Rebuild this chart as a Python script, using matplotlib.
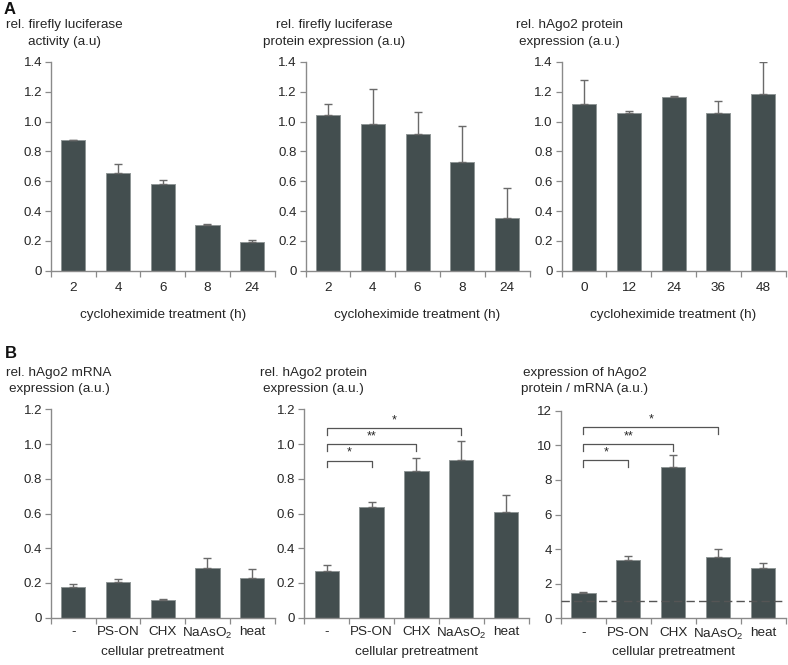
import matplotlib
matplotlib.use("Agg")
import matplotlib.pyplot as plt
import numpy as np

plt.rcParams['font.family'] = ['Liberation Sans', 'DejaVu Sans']
plt.rcParams['mathtext.fontset'] = 'custom'
plt.rcParams['mathtext.rm'] = 'Liberation Sans'
plt.rcParams['mathtext.it'] = 'Liberation Sans:italic'
plt.rcParams['mathtext.default'] = 'regular'

# ---------------- data ----------------
time_labels_a = ["2", "4", "6", "8", "24"]
time_labels_c = ["0", "12", "24", "36", "48"]
treat_labels = ["-", "PS-ON", "CHX", "NaAsO$_2$", "heat"]

luc_activity = [0.88, 0.655, 0.58, 0.305, 0.19]
luc_activity_err = [0.0, 0.063, 0.027, 0.006, 0.018]

luc_protein = [1.045, 0.982, 0.919, 0.726, 0.355]
luc_protein_err = [0.076, 0.234, 0.144, 0.245, 0.20]

ago2_protein_chx = [1.115, 1.056, 1.162, 1.056, 1.187]
ago2_protein_chx_err = [0.166, 0.014, 0.013, 0.081, 0.213]

ago2_mrna = [0.177, 0.207, 0.102, 0.286, 0.227]
ago2_mrna_err = [0.015, 0.018, 0.004, 0.056, 0.051]

ago2_protein = [0.271, 0.637, 0.843, 0.910, 0.609]
ago2_protein_err = [0.034, 0.027, 0.075, 0.106, 0.100]

ago2_ratio = [1.445, 3.35, 8.75, 3.53, 2.93]
ago2_ratio_err = [0.095, 0.27, 0.67, 0.46, 0.29]

# significance brackets: (i, j, level, label)
sig_protein = [(0, 1, 0.904, "*"), (0, 2, 0.998, "**"), (0, 3, 1.092, "*")]
sig_ratio = [(0, 1, 9.13, "*"), (0, 2, 10.06, "**"), (0, 3, 11.04, "*")]
ratio_baseline = 1.0

# ---------------- style ----------------
W, H = 788, 665
fig = plt.figure(figsize=(W / 100, H / 100), dpi=100)
BAR = '#434e4f'
EDGE = '#8f9696'
AX = '#8a8a8a'
TXT = '#262626'
FS = 9.7
TFS = 9.5


def px(x, y):
    return x / W, 1 - y / H


def make_ax(left_px, top_px, bottom_px, right_px):
    l, t = px(left_px, top_px)
    _, b = px(0, bottom_px)
    r = right_px / W
    return fig.add_axes([l, b, r - l, t - b])


def draw_panel(ax, vals, errs, labels, ymax, ystep, fmt, pad):
    x = np.arange(len(vals))
    ax.bar(x, vals, width=0.54, color=BAR, edgecolor=EDGE, linewidth=0.7, zorder=2)
    ax.errorbar(x, vals, yerr=[np.zeros(len(vals)), errs], fmt='none',
                ecolor='#6a6a6a', elinewidth=1.0, capsize=2.6, capthick=1.0, zorder=3)
    ax.set_xlim(-0.5, len(vals) - 0.5)
    ax.set_ylim(0, ymax)
    ax.set_yticks(np.arange(0, ymax + 1e-9, ystep))
    ax.set_yticklabels([fmt(v) for v in np.arange(0, ymax + 1e-9, ystep)])
    ax.set_xticks(np.arange(-0.5, len(vals)), minor=False)
    ax.set_xticklabels([])
    ax.set_xticks(x, minor=True)
    ax.set_xticklabels(labels, minor=True)
    ax.tick_params(axis='x', which='minor', length=0, pad=pad, labelsize=FS, labelcolor=TXT)
    ax.tick_params(axis='x', which='major', length=4, width=0.9, color=AX, direction='out')
    ax.tick_params(axis='y', length=4, width=0.9, color=AX, pad=2.5, labelsize=TFS, labelcolor=TXT)
    for s in ['top', 'right']:
        ax.spines[s].set_visible(False)
    for s in ['left', 'bottom']:
        ax.spines[s].set_color(AX)
        ax.spines[s].set_linewidth(1.0)
    ax.patch.set_visible(False)


def fmt_dec(v):
    return "0" if abs(v) < 1e-9 else f"{v:.1f}"


def fmt_int(v):
    return f"{int(round(v))}"


def brackets(ax, sigs, leg, star_off):
    for i, j, lev, lab in sigs:
        ax.plot([i, i, j, j], [lev - leg, lev, lev, lev - leg], color='#555555', lw=0.9,
                zorder=4, clip_on=False)
        ax.text((i + j) / 2, lev + star_off, lab, ha='center', va='center',
                fontsize=9, color=TXT)


# ---------------- row A ----------------
axA1 = make_ax(51, 62, 270.7, 274.5)
axA2 = make_ax(305.7, 62, 270.7, 529.5)
axA3 = make_ax(561.7, 62, 270.7, 785.5)
draw_panel(axA1, luc_activity, luc_activity_err, time_labels_a, 1.4, 0.2, fmt_dec, 8)
draw_panel(axA2, luc_protein, luc_protein_err, time_labels_a, 1.4, 0.2, fmt_dec, 8)
draw_panel(axA3, ago2_protein_chx, ago2_protein_chx_err, time_labels_c, 1.4, 0.2, fmt_dec, 8)

# ---------------- row B ----------------
axB1 = make_ax(51, 409.3, 617.7, 274.5)
axB2 = make_ax(304.3, 409.3, 617.7, 528.5)
axB3 = make_ax(561, 410.7, 618.3, 785.5)
draw_panel(axB1, ago2_mrna, ago2_mrna_err, treat_labels, 1.2, 0.2, fmt_dec, 6)
draw_panel(axB2, ago2_protein, ago2_protein_err, treat_labels, 1.2, 0.2, fmt_dec, 6)
draw_panel(axB3, ago2_ratio, ago2_ratio_err, treat_labels, 12, 2, fmt_int, 6)
brackets(axB2, sig_protein, 0.038, 0.045)
brackets(axB3, sig_ratio, 0.37, 0.45)
axB3.axhline(ratio_baseline, color='#555555', lw=1.0, dashes=(6, 3), zorder=5)

# ---------------- texts ----------------
def ftext(x, y, s, **kw):
    fx, fy = px(x, y)
    kw.setdefault('fontsize', FS)
    kw.setdefault('color', TXT)
    fig.text(fx, fy, s, ha=kw.pop('ha', 'center'), va=kw.pop('va', 'center'), **kw)

ftext(4, 9, "A", ha='left', fontsize=12, fontweight='bold', color='#111111')
ftext(5, 353, "B", ha='left', fontsize=12, fontweight='bold', color='#111111')

ftext(64.5, 25, "rel. firefly luciferase")
ftext(64.5, 42, "activity (a.u)")
ftext(334.5, 25, "rel. firefly luciferase")
ftext(334.5, 42, "protein expression (a.u)")
ftext(569, 25, "rel. hAgo2 protein")
ftext(569, 42, "expression (a.u.)")

ftext(59, 373, "rel. hAgo2 mRNA")
ftext(59, 389, "expression (a.u.)")
ftext(313, 373, "rel. hAgo2 protein")
ftext(313, 389, "expression (a.u.)")
ftext(585, 373, "expression of hAgo2")
ftext(585, 389, "protein / mRNA (a.u.)")

for cx in [(51 + 274.5) / 2, (305.7 + 529.5) / 2, (561.7 + 785.5) / 2]:
    ftext(cx, 315, "cycloheximide treatment (h)")
for cx in [(51 + 274.5) / 2, (304.3 + 528.5) / 2, (561 + 785.5) / 2]:
    ftext(cx, 652, "cellular pretreatment")

fig.savefig("out.png", dpi=100, facecolor='white')
